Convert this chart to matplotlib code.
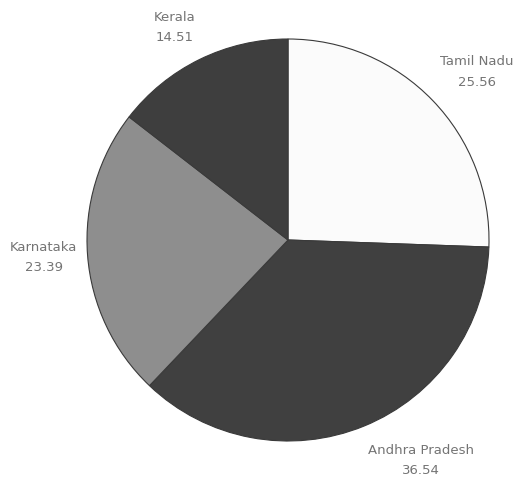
import numpy as np
import matplotlib.pyplot as plt

states = ['Tamil Nadu', 'Andhra Pradesh', 'Karnataka', 'Kerala']
shares = [25.56, 36.54, 23.39, 14.51]
colors = ['#fbfbfb', '#404040', '#8e8e8e', '#3e3e3e']

fig = plt.figure(figsize=(5.13, 4.81), dpi=100)
ax = fig.add_axes([0, 0, 1, 1])

wedges, _ = ax.pie(shares, colors=colors, startangle=90, counterclock=False,
                   radius=1.0, wedgeprops=dict(edgecolor='#3a3a3a', linewidth=0.8))

# pie() resets the limits, so place the circle afterwards
R = 201.0
cx, cy = 288.0, 241.0
ax.set_xlim(-cx / R, (513 - cx) / R)
ax.set_ylim(-(481 - cy) / R, cy / R)
ax.set_aspect('equal')
ax.axis('off')

# labels sit just outside the rim, anchored by their nearest corner
for w, name, val in zip(wedges, states, shares):
    mid = np.deg2rad((w.theta1 + w.theta2) / 2)
    c, s = np.cos(mid), np.sin(mid)
    ha = 'left' if c > 0 else 'right'
    va = 'bottom' if s > 0.3 else ('top' if s < -0.3 else 'center')
    ax.text(1.05 * c, 1.09 * s, f'{name}\n{val:.2f}', ha=ha, va=va,
            multialignment='center', fontsize=9.5, family='DejaVu Sans',
            color='#747474', linespacing=1.75)

fig.savefig('out.png', dpi=100)
